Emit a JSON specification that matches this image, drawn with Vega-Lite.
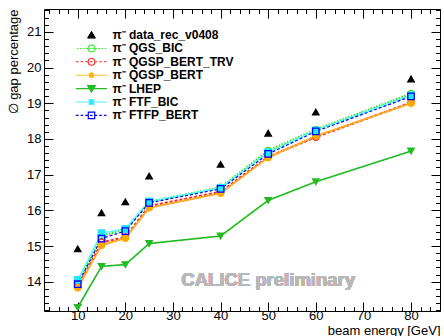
{
  "$schema": "https://vega.github.io/schema/vega-lite/v6.json",
  "width": 396,
  "height": 302,
  "autosize": {"type": "none"},
  "padding": {"left": 44, "top": 9, "right": 4, "bottom": 25},
  "background": "white",
  "config": {
    "view": {"stroke": "black", "strokeWidth": 1},
    "font": "Liberation Sans",
    "axis": {"grid": false, "domain": false, "tickColor": "black", "tickWidth": 1, "labelFont": "Liberation Sans", "labelColor": "black", "titleFont": "Liberation Sans", "titleColor": "black", "titleFontWeight": "normal"}
  },
  "data": {
    "values": [
      {"series": "data_rec_v0408", "energy": 10, "gap": 14.92},
      {"series": "data_rec_v0408", "energy": 15, "gap": 15.93},
      {"series": "data_rec_v0408", "energy": 20, "gap": 16.24},
      {"series": "data_rec_v0408", "energy": 25, "gap": 16.96},
      {"series": "data_rec_v0408", "energy": 40, "gap": 17.29},
      {"series": "data_rec_v0408", "energy": 50, "gap": 18.16},
      {"series": "data_rec_v0408", "energy": 60, "gap": 18.75},
      {"series": "data_rec_v0408", "energy": 80, "gap": 19.68},
      {"series": "QGS_BIC", "energy": 10, "gap": 13.98},
      {"series": "QGS_BIC", "energy": 15, "gap": 15.28},
      {"series": "QGS_BIC", "energy": 20, "gap": 15.47},
      {"series": "QGS_BIC", "energy": 25, "gap": 16.24},
      {"series": "QGS_BIC", "energy": 40, "gap": 16.64},
      {"series": "QGS_BIC", "energy": 50, "gap": 17.67},
      {"series": "QGS_BIC", "energy": 60, "gap": 18.26},
      {"series": "QGS_BIC", "energy": 80, "gap": 19.27},
      {"series": "QGSP_BERT_TRV", "energy": 10, "gap": 13.85},
      {"series": "QGSP_BERT_TRV", "energy": 15, "gap": 15.1},
      {"series": "QGSP_BERT_TRV", "energy": 20, "gap": 15.25},
      {"series": "QGSP_BERT_TRV", "energy": 25, "gap": 16.12},
      {"series": "QGSP_BERT_TRV", "energy": 40, "gap": 16.52},
      {"series": "QGSP_BERT_TRV", "energy": 50, "gap": 17.5},
      {"series": "QGSP_BERT_TRV", "energy": 60, "gap": 18.05},
      {"series": "QGSP_BERT_TRV", "energy": 80, "gap": 19.02},
      {"series": "QGSP_BERT", "energy": 10, "gap": 13.83},
      {"series": "QGSP_BERT", "energy": 15, "gap": 15.02},
      {"series": "QGSP_BERT", "energy": 20, "gap": 15.22},
      {"series": "QGSP_BERT", "energy": 25, "gap": 16.07},
      {"series": "QGSP_BERT", "energy": 40, "gap": 16.48},
      {"series": "QGSP_BERT", "energy": 50, "gap": 17.48},
      {"series": "QGSP_BERT", "energy": 60, "gap": 18.08},
      {"series": "QGSP_BERT", "energy": 80, "gap": 19.0},
      {"series": "LHEP", "energy": 10, "gap": 13.28},
      {"series": "LHEP", "energy": 15, "gap": 14.43},
      {"series": "LHEP", "energy": 20, "gap": 14.48},
      {"series": "LHEP", "energy": 25, "gap": 15.07},
      {"series": "LHEP", "energy": 40, "gap": 15.28},
      {"series": "LHEP", "energy": 50, "gap": 16.28},
      {"series": "LHEP", "energy": 60, "gap": 16.8},
      {"series": "LHEP", "energy": 80, "gap": 17.66},
      {"series": "FTF_BIC", "energy": 10, "gap": 14.05},
      {"series": "FTF_BIC", "energy": 15, "gap": 15.36},
      {"series": "FTF_BIC", "energy": 20, "gap": 15.48},
      {"series": "FTF_BIC", "energy": 25, "gap": 16.25},
      {"series": "FTF_BIC", "energy": 40, "gap": 16.63},
      {"series": "FTF_BIC", "energy": 50, "gap": 17.62},
      {"series": "FTF_BIC", "energy": 60, "gap": 18.24},
      {"series": "FTF_BIC", "energy": 80, "gap": 19.22},
      {"series": "FTFP_BERT", "energy": 10, "gap": 13.93},
      {"series": "FTFP_BERT", "energy": 15, "gap": 15.21},
      {"series": "FTFP_BERT", "energy": 20, "gap": 15.42},
      {"series": "FTFP_BERT", "energy": 25, "gap": 16.21},
      {"series": "FTFP_BERT", "energy": 40, "gap": 16.6},
      {"series": "FTFP_BERT", "energy": 50, "gap": 17.58},
      {"series": "FTFP_BERT", "energy": 60, "gap": 18.21},
      {"series": "FTFP_BERT", "energy": 80, "gap": 19.19}
    ]
  },
  "resolve": {
    "axis": {"x": "independent", "y": "independent"},
    "scale": {"shape": "independent", "fill": "independent", "stroke": "independent", "strokeWidth": "independent"}
  },
  "layer": [
    {
      "transform": [{"filter": "datum.series !== 'data_rec_v0408'"}],
      "mark": {"type": "line", "clip": true},
      "encoding": {
        "x": {"field": "energy", "type": "quantitative", "scale": {"domain": [2.92, 86.08], "nice": false, "zero": false},
          "axis": {"orient": "bottom", "values": [10, 20, 30, 40, 50, 60, 70, 80], "ticks": false, "tickSize": 0, "labelPadding": -2, "labelFontSize": 13, "labelFlush": false, "title": "beam energy [GeV]", "titleFontSize": 13, "titleAnchor": "end", "titleAlign": "right", "titleBaseline": "alphabetic", "titleX": 396, "titleY": 23}},
        "y": {"field": "gap", "type": "quantitative", "scale": {"domain": [13.18, 21.64], "nice": false, "zero": false},
          "axis": {"orient": "left", "values": [14, 15, 16, 17, 18, 19, 20, 21], "ticks": false, "tickSize": 0, "labelPadding": 3, "labelFontSize": 13, "labelFlush": false, "title": "∅ gap percentage", "titleFontSize": 13, "titleAngle": 270, "titleAnchor": "end", "titleAlign": "right", "titleBaseline": "alphabetic", "titleX": -27, "titleY": 0}},
        "color": {"field": "series", "type": "nominal", "legend": null,
          "scale": {"domain": ["FTFP_BERT", "FTF_BIC", "LHEP", "QGSP_BERT", "QGSP_BERT_TRV", "QGS_BIC", "data_rec_v0408"],
                    "range": ["#0000ff", "#55ffff", "#22bb22", "#ffaa22", "#ff2020", "#22ee22", "black"]}},
        "strokeDash": {"field": "series", "type": "nominal", "legend": null,
          "scale": {"domain": ["FTFP_BERT", "FTF_BIC", "LHEP", "QGSP_BERT", "QGSP_BERT_TRV", "QGS_BIC", "data_rec_v0408"],
                    "range": [[3, 2], [1, 0], [1, 0], [1, 0], [3, 2], [1.5, 1.5], [1, 0]]}},
        "strokeWidth": {"field": "series", "type": "nominal", "legend": null,
          "scale": {"domain": ["FTFP_BERT", "FTF_BIC", "LHEP", "QGSP_BERT", "QGSP_BERT_TRV", "QGS_BIC", "data_rec_v0408"],
                    "range": [1.2, 2.5, 1.2, 2, 1.2, 1.3, 1]}}
      }
    },
    {
      "mark": {"type": "point", "filled": true, "size": 42, "strokeWidth": 1.3, "opacity": 1, "clip": true},
      "encoding": {
        "x": {"field": "energy", "type": "quantitative",
          "axis": {"orient": "bottom", "values": [10, 20, 30, 40, 50, 60, 70, 80], "labels": false, "tickSize": -9, "title": null}},
        "y": {"field": "gap", "type": "quantitative",
          "axis": {"orient": "left", "values": [14, 15, 16, 17, 18, 19, 20, 21], "labels": false, "tickSize": -9, "title": null}},
        "shape": {"field": "series", "type": "nominal", "legend": null,
          "scale": {"domain": ["FTFP_BERT", "FTF_BIC", "LHEP", "QGSP_BERT", "QGSP_BERT_TRV", "QGS_BIC", "data_rec_v0408"],
                    "range": ["square", "square", "triangle-down", "circle", "circle", "circle", "triangle-up"]}},
        "stroke": {"field": "series", "type": "nominal", "legend": null,
          "scale": {"domain": ["FTFP_BERT", "FTF_BIC", "LHEP", "QGSP_BERT", "QGSP_BERT_TRV", "QGS_BIC", "data_rec_v0408"],
                    "range": ["#0000ff", "#22e5ff", "#22bb22", "#ffaa00", "#ff2020", "#22ee22", "black"]}},
        "fill": {"field": "series", "type": "nominal", "legend": null,
          "scale": {"domain": ["FTFP_BERT", "FTF_BIC", "LHEP", "QGSP_BERT", "QGSP_BERT_TRV", "QGS_BIC", "data_rec_v0408"],
                    "range": ["transparent", "#22e5ff", "#22bb22", "#ffaa00", "transparent", "transparent", "black"]}}
      }
    },
    {
      "mark": {"type": "text", "font": "Liberation Sans", "fontWeight": "bold", "fontSize": 18.5, "color": "#b8b8b8", "align": "center", "baseline": "middle"},
      "encoding": {
        "x": {"datum": 50, "type": "quantitative",
          "axis": {"orient": "bottom", "values": [4, 6, 8, 12, 14, 16, 18, 22, 24, 26, 28, 32, 34, 36, 38, 42, 44, 46, 48, 52, 54, 56, 58, 62, 64, 66, 68, 72, 74, 76, 78, 82, 84, 86], "labels": false, "tickSize": -4.5, "title": null}},
        "y": {"datum": 14.05, "type": "quantitative",
          "axis": {"orient": "left", "values": [13.2, 13.4, 13.6, 13.8, 14.2, 14.4, 14.6, 14.8, 15.2, 15.4, 15.6, 15.8, 16.2, 16.4, 16.6, 16.8, 17.2, 17.4, 17.6, 17.8, 18.2, 18.4, 18.6, 18.8, 19.2, 19.4, 19.6, 19.8, 20.2, 20.4, 20.6, 20.8, 21.2, 21.4, 21.6], "labels": false, "tickSize": -4.5, "title": null}},
        "text": {"value": "CALICE preliminary"}
      }
    },
    {
      "transform": [{"filter": "false"}],
      "mark": {"type": "point", "filled": true, "opacity": 1},
      "encoding": {
        "x": {"field": "energy", "type": "quantitative",
          "axis": {"orient": "top", "values": [10, 20, 30, 40, 50, 60, 70, 80], "labels": false, "tickSize": -9, "title": null}},
        "y": {"field": "gap", "type": "quantitative",
          "axis": {"orient": "right", "values": [14, 15, 16, 17, 18, 19, 20, 21], "labels": false, "tickSize": -9, "title": null}},
        "shape": {"field": "series", "type": "nominal",
          "scale": {"domain": ["data_rec_v0408", "QGS_BIC", "QGSP_BERT_TRV", "QGSP_BERT", "LHEP", "FTF_BIC", "FTFP_BERT"],
                    "range": [
                      "M0,-0.7L0.75,0.6L-0.75,0.6Z",
                      "M-2.85,0h0.3M-2.25,0h0.3M-1.65,0h0.3M-1.05,0h0.3M-0.45,0h0.3M0.15,0h0.3M0.75,0h0.3M1.35,0h0.3M1.95,0h0.3M2.55,0h0.3M-0.65,0A0.65,0.65,0,1,0,0.65,0A0.65,0.65,0,1,0,-0.65,0Z",
                      "M-3,0h0.5M-2.1,0h0.5M-1.2,0h0.5M-0.3,0h0.5M0.6,0h0.5M1.5,0h0.5M2.4,0h0.5M-0.65,0A0.65,0.65,0,1,0,0.65,0A0.65,0.65,0,1,0,-0.65,0Z",
                      "M-3,0H3M-0.45,0A0.45,0.45,0,1,0,0.45,0A0.45,0.45,0,1,0,-0.45,0Z",
                      "M-3,0H3M0,0.7L0.75,-0.6L-0.75,-0.6Z",
                      "M-3,0H3M-0.45,-0.45H0.45V0.45H-0.45Z",
                      "M-3,0h0.5M-2.1,0h0.5M-1.2,0h0.5M-0.3,0h0.5M0.6,0h0.5M1.5,0h0.5M2.4,0h0.5M-0.62,-0.62H0.62V0.62H-0.62Z"
                    ]},
          "legend": {
            "orient": "none", "legendX": 41.5, "legendY": 20, "title": null, "padding": 0, "offset": 0,
            "symbolSize": 107, "symbolOpacity": 1, "labelOffset": 15, "rowPadding": 1.4,
            "labelFont": "Liberation Sans", "labelFontWeight": "bold", "labelFontSize": 12, "labelColor": "black",
            "labelExpr": "'π⁻ ' + datum.label"
          }},
        "fill": {"field": "series", "type": "nominal",
          "scale": {"domain": ["data_rec_v0408", "QGS_BIC", "QGSP_BERT_TRV", "QGSP_BERT", "LHEP", "FTF_BIC", "FTFP_BERT"],
                    "range": ["black", "transparent", "transparent", "#ffaa00", "#22bb22", "#22ddff", "transparent"]}},
        "stroke": {"field": "series", "type": "nominal",
          "scale": {"domain": ["data_rec_v0408", "QGS_BIC", "QGSP_BERT_TRV", "QGSP_BERT", "LHEP", "FTF_BIC", "FTFP_BERT"],
                    "range": ["black", "#22ee22", "#ff2020", "#ffbb33", "#22bb22", "#55eeff", "#0000ff"]}},
        "strokeWidth": {"field": "series", "type": "nominal",
          "scale": {"domain": ["data_rec_v0408", "QGS_BIC", "QGSP_BERT_TRV", "QGSP_BERT", "LHEP", "FTF_BIC", "FTFP_BERT"],
                    "range": [1, 1.2, 1.2, 2.6, 1.2, 2.6, 1.2]}}
      }
    },
    {
      "mark": {"type": "point", "opacity": 0},
      "encoding": {
        "x": {"field": "energy", "type": "quantitative",
          "axis": {"orient": "top", "values": [4, 6, 8, 12, 14, 16, 18, 22, 24, 26, 28, 32, 34, 36, 38, 42, 44, 46, 48, 52, 54, 56, 58, 62, 64, 66, 68, 72, 74, 76, 78, 82, 84, 86], "labels": false, "tickSize": -4.5, "title": null}},
        "y": {"field": "gap", "type": "quantitative",
          "axis": {"orient": "right", "values": [13.2, 13.4, 13.6, 13.8, 14.2, 14.4, 14.6, 14.8, 15.2, 15.4, 15.6, 15.8, 16.2, 16.4, 16.6, 16.8, 17.2, 17.4, 17.6, 17.8, 18.2, 18.4, 18.6, 18.8, 19.2, 19.4, 19.6, 19.8, 20.2, 20.4, 20.6, 20.8, 21.2, 21.4, 21.6], "labels": false, "tickSize": -4.5, "title": null}}
      }
    }
  ]
}
